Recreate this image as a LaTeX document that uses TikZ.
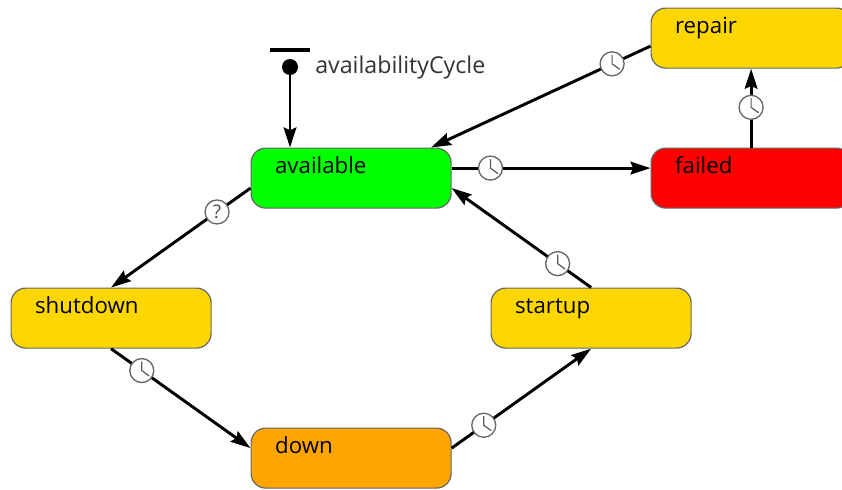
\documentclass[tikz,border=0pt]{standalone}
\usepackage{fontspec}
\setmainfont{Open Sans}
\usetikzlibrary{arrows.meta}
\definecolor{gold}{HTML}{FFD700}
\definecolor{orng}{HTML}{FFA500}
\definecolor{lime}{HTML}{00FF00}
\definecolor{redd}{HTML}{FF0000}
\definecolor{edgegray}{HTML}{666666}
\tikzset{
  statebox/.style={draw=edgegray,line width=0.9pt,rounded corners=11pt,anchor=north west,
    minimum width=150pt,minimum height=45pt,inner xsep=18pt,inner ysep=0pt,
    text width=114pt,align=left,text height=18.8pt,text depth=26.2pt,font=\fontsize{16.7}{18}\selectfont},
  trans/.style={draw=black,line width=2.2pt,-{Stealth[length=15pt,width=9.5pt,inset=2pt]}},
  badge/.style={circle,draw=edgegray,fill=white,line width=1pt,minimum size=18pt,inner sep=0pt},
  clock/.style={badge,path picture={
    \draw[-,fill=none,draw=black!65,line width=0.9pt,line cap=round,line join=round]
      ([yshift=6.5pt]path picture bounding box.center) -- (path picture bounding box.center) -- ([xshift=5.5pt,yshift=-4pt]path picture bounding box.center);}},
  query/.style={badge,font=\fontsize{14}{14}\selectfont,text=black!70},
}
\begin{document}
\begin{tikzpicture}[x=0.75pt,y=-0.75pt]
\useasboundingbox (0,0) rectangle (842,489);
\node[statebox,fill=lime] (available) at (250.5,147.5) {available};
\node[statebox,fill=gold] (repair) at (650.5,7.5) {repair};
\node[statebox,fill=redd] (failed) at (650.5,147.5) {failed};
\node[statebox,fill=gold] (shutdown) at (10.5,287.5) {shutdown};
\node[statebox,fill=gold] (startup) at (490.5,287.5) {startup};
\node[statebox,fill=orng] (down) at (250.5,427.5) {down};
\node[circle,fill=black,minimum size=12pt,inner sep=0pt] (init) at (290,67) {};
\coordinate (barL) at (270,50);
\coordinate (barR) at (310,50);
\draw[line width=2.4pt] (barL) -- (barR);
\node[anchor=base west,inner sep=0pt,text=black!80,font=\fontsize{17.4}{18}\selectfont] (cycle) at (315,73) {availabilityCycle};
\draw[trans] (init) -- (init |- available.north);
\draw[trans] ([yshift=7.5pt]available.east) -- node[clock,pos=0.195] (c1) {} ([yshift=7.5pt]failed.west);
\draw[trans] (failed.north) -- node[clock,pos=0.51] (c2) {} (repair.south);
\draw[trans] ([yshift=-6pt]repair.west) -- node[clock,pos=0.175] (c3) {} ([xshift=60pt]available.north);
\draw[trans] (startup.north) -- node[clock,pos=0.24] (c4) {} ([yshift=-7.5pt]available.east);
\draw[trans] ([yshift=-7.5pt]available.west) -- node[query,pos=0.24] (q1) {?} (shutdown.north);
\draw[trans] (shutdown.south) -- node[clock,pos=0.22] (c5) {} ([yshift=7.5pt]down.west);
\draw[trans] ([yshift=7.5pt]down.east) -- node[clock,pos=0.23] (c6) {} (startup.south);
\end{tikzpicture}
\end{document}
